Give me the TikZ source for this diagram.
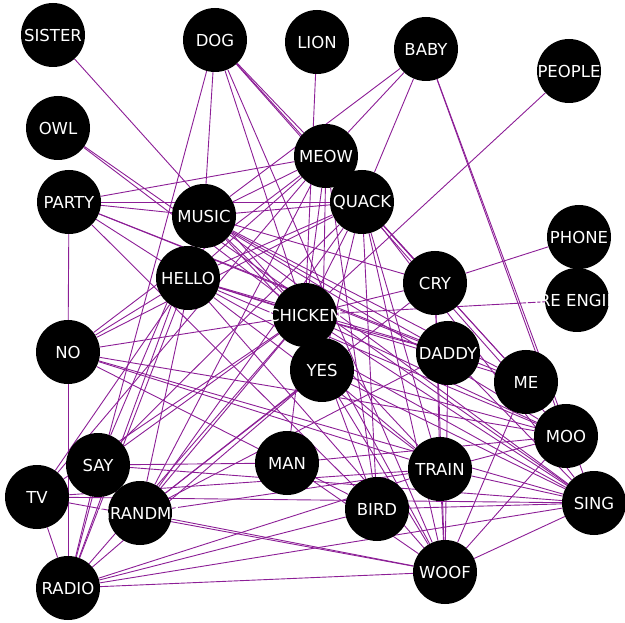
\documentclass[tikz,border=0pt]{standalone}
\usepackage{fontspec}
\setmainfont{DejaVu Sans}
\usetikzlibrary{backgrounds}
\definecolor{edgec}{RGB}{140,30,150}
\tikzset{
  wn/.style={circle,fill=black,draw=none,minimum size=64pt,inner sep=0pt,text=white,font=\fontsize{16.5}{17}\selectfont},
  ed/.style={draw=edgec,line width=0.9pt}
}
\newcommand{\lbl}[1]{\makebox[0pt]{#1}}
\begin{document}
\begin{tikzpicture}[x=1pt,y=-1pt]
\useasboundingbox (0,0) rectangle (625,623);
\node[wn] (sister) at (53,35) {\lbl{SISTER}};
\node[wn] (dog) at (215,40) {\lbl{DOG}};
\node[wn] (lion) at (317,42) {\lbl{LION}};
\node[wn] (baby) at (426,49) {\lbl{BABY}};
\node[wn] (people) at (569,71) {\lbl{PEOPLE}};
\node[wn] (owl) at (58,128) {\lbl{OWL}};
\node[wn] (meow) at (326,156) {\lbl{MEOW}};
\node[wn] (party) at (69,202) {\lbl{PARTY}};
\node[wn] (music) at (204,216) {\lbl{MUSIC}};
\node[wn] (quack) at (362,202) {\lbl{QUACK}};
\node[wn] (phone) at (579,237) {\lbl{PHONE}};
\node[wn] (hello) at (188,278) {\lbl{HELLO}};
\node[wn] (cry) at (435,283) {\lbl{CRY}};
\node[wn] (fire) at (577,300) {\lbl{FIRE ENGINE}};
\node[wn] (chicken) at (305,315) {\lbl{CHICKEN}};
\node[wn] (no) at (68,352) {\lbl{NO}};
\node[wn] (daddy) at (448,353) {\lbl{DADDY}};
\node[wn] (yes) at (322,370) {\lbl{YES}};
\node[wn] (me) at (526,382) {\lbl{ME}};
\node[wn] (moo) at (566,436) {\lbl{MOO}};
\node[wn] (say) at (98,465) {\lbl{SAY}};
\node[wn] (man) at (287,463) {\lbl{MAN}};
\node[wn] (train) at (440,469) {\lbl{TRAIN}};
\node[wn] (tv) at (37,497) {\lbl{TV}};
\node[wn] (grandma) at (140,513) {\lbl{GRANDMA}};
\node[wn] (bird) at (377,509) {\lbl{BIRD}};
\node[wn] (sing) at (594,503) {\lbl{SING}};
\node[wn] (woof) at (445,572) {\lbl{WOOF}};
\node[wn] (radio) at (68,588) {\lbl{RADIO}};
\begin{pgfonlayer}{background}
\foreach \a/\b in {sister/chicken,
 dog/music,dog/radio,dog/chicken,dog/woof,dog/meow,dog/me,dog/moo,
 lion/chicken,
 baby/music,baby/meow,baby/quack,baby/moo,baby/sing,
 people/chicken,
 owl/chicken,owl/sing,
 party/meow,party/music,party/quack,party/no,party/bird,party/hello,party/daddy,party/me,
 meow/music,meow/hello,meow/no,meow/tv,meow/grandma,meow/yes,meow/bird,meow/chicken,
 quack/music,quack/hello,quack/no,quack/say,quack/grandma,quack/chicken,quack/yes,quack/bird,quack/train,quack/woof,quack/me,quack/sing,quack/cry,
 music/chicken,music/daddy,music/me,music/moo,music/sing,music/train,music/say,music/grandma,music/radio,music/cry,
 hello/no,hello/chicken,hello/daddy,hello/me,hello/moo,hello/train,hello/woof,hello/sing,hello/tv,hello/radio,
 phone/cry,fire/chicken,
 chicken/no,chicken/tv,chicken/say,chicken/grandma,chicken/radio,chicken/cry,chicken/daddy,chicken/moo,chicken/sing,chicken/woof,chicken/bird,chicken/man,
 cry/woof,cry/train,cry/grandma,
 no/moo,no/bird,no/sing,no/train,
 daddy/woof,daddy/sing,daddy/grandma,
 yes/sing,yes/moo,yes/woof,yes/train,yes/radio,yes/grandma,
 me/woof,
 moo/train,moo/woof,moo/man,
 say/man,say/sing,
 train/sing,train/woof,train/tv,train/radio,train/grandma,
 tv/sing,tv/woof,tv/radio,
 grandma/woof,
 bird/radio,bird/sing,
 sing/woof,sing/radio,
 woof/radio,man/woof,
 radio/say,radio/no}
 {\draw[ed] (\a) -- (\b);}
\end{pgfonlayer}
\end{tikzpicture}
\end{document}
